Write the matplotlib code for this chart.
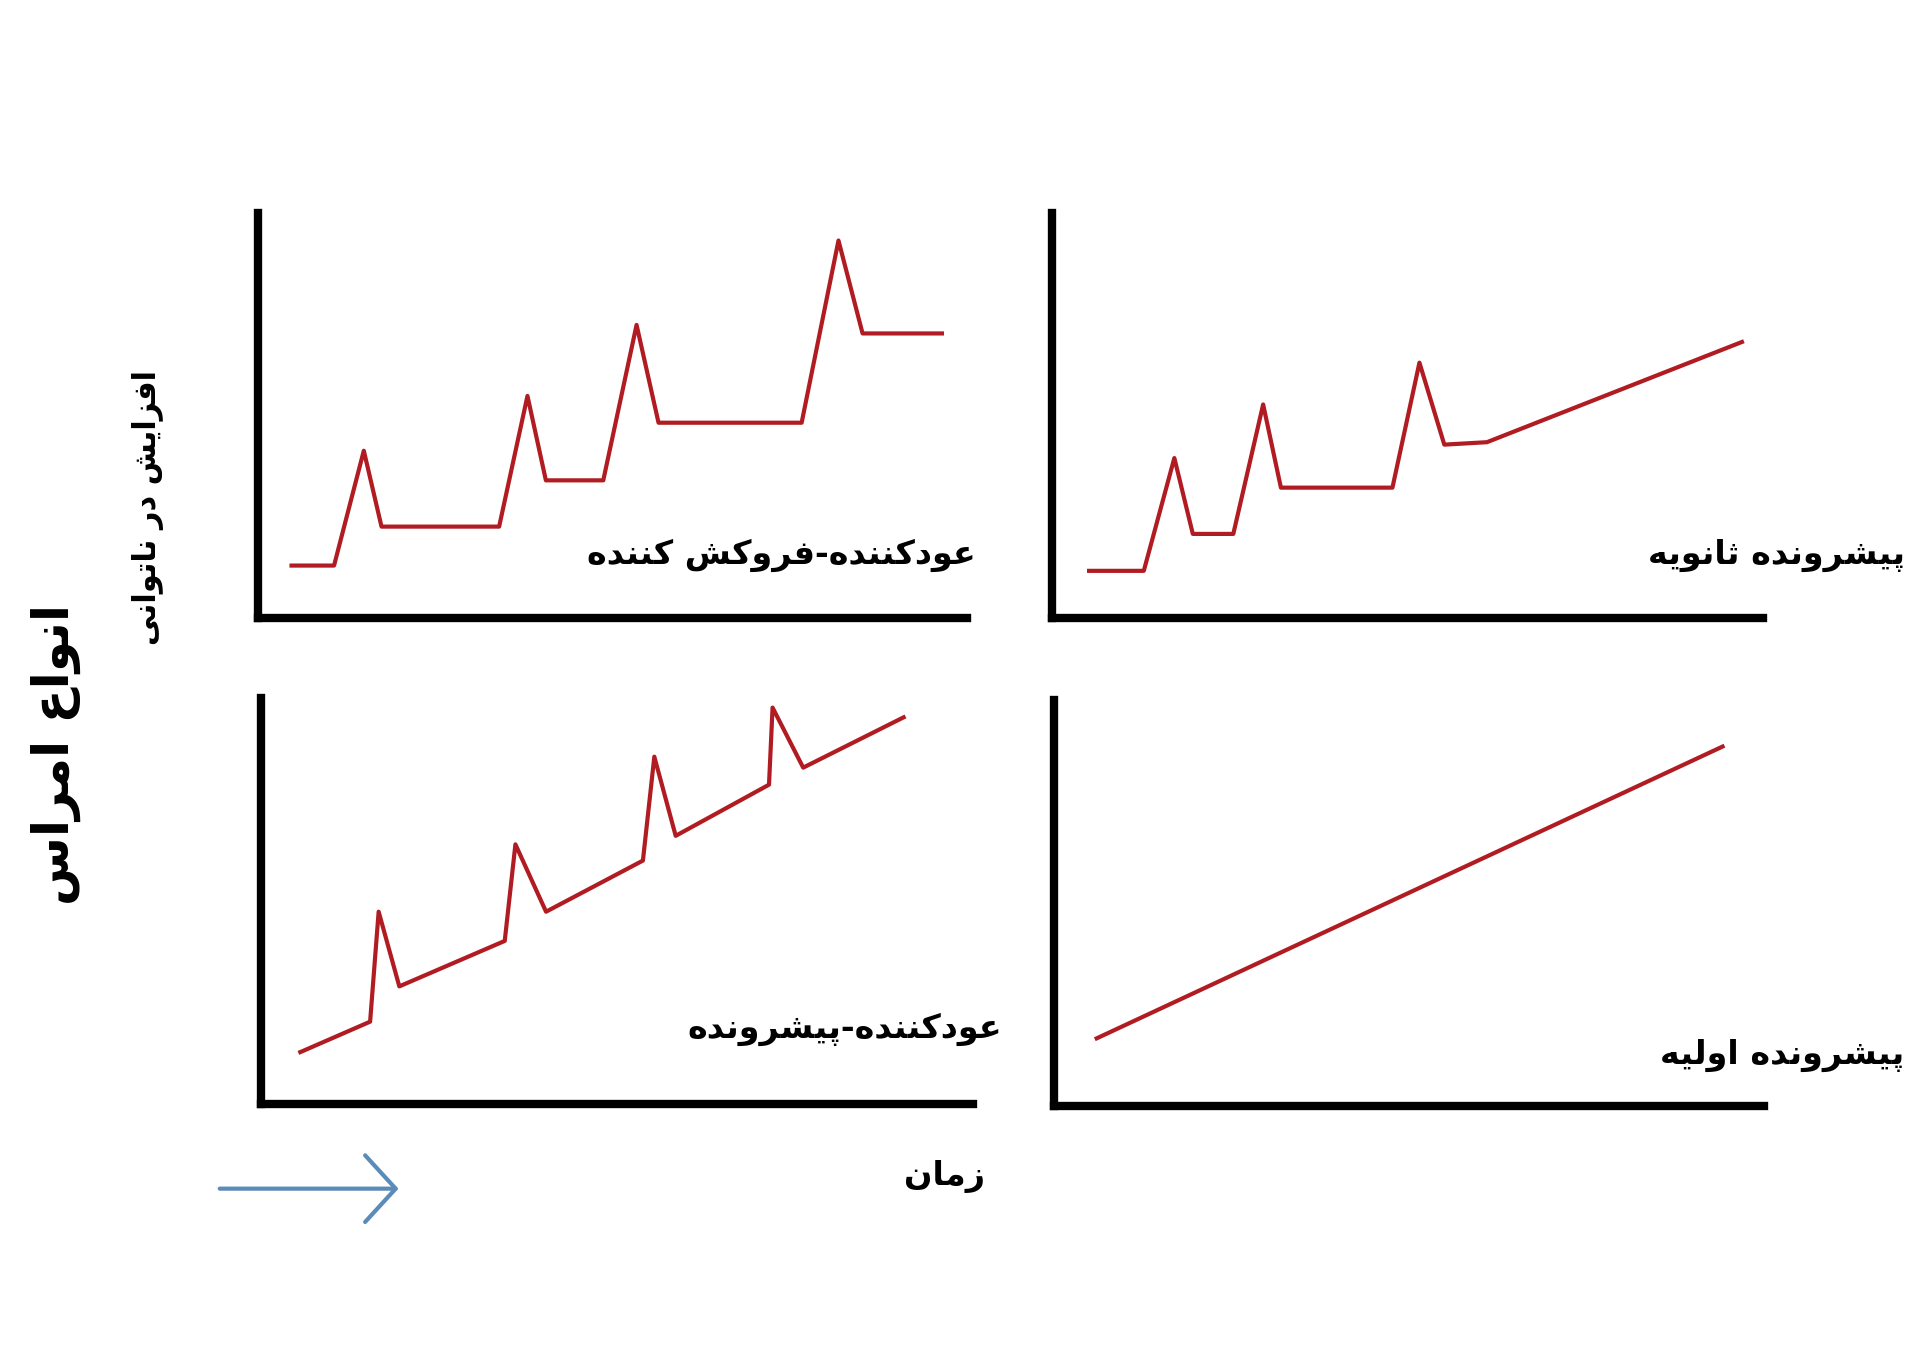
import matplotlib
matplotlib.use("Agg")
import matplotlib.pyplot as plt

plt.rcParams['font.family'] = ['DejaVu Sans']

# minimal persian shaping: isolated, final, initial, medial presentation forms
FORMS = {
    'ا': ('\uFE8D', '\uFE8E', None, None),
    'د': ('\uFEA9', '\uFEAA', None, None),
    'ر': ('\uFEAD', '\uFEAE', None, None),
    'ز': ('\uFEAF', '\uFEB0', None, None),
    'و': ('\uFEED', '\uFEEE', None, None),
    'ن': ('\uFEE5', '\uFEE6', '\uFEE7', '\uFEE8'),
    'ع': ('\uFEC9', '\uFECA', '\uFECB', '\uFECC'),
    'م': ('\uFEE1', '\uFEE2', '\uFEE3', '\uFEE4'),
    'س': ('\uFEB1', '\uFEB2', '\uFEB3', '\uFEB4'),
    'ف': ('\uFED1', '\uFED2', '\uFED3', '\uFED4'),
    'ش': ('\uFEB5', '\uFEB6', '\uFEB7', '\uFEB8'),
    'ت': ('\uFE95', '\uFE96', '\uFE97', '\uFE98'),
    'ث': ('\uFE99', '\uFE9A', '\uFE9B', '\uFE9C'),
    'ه': ('\uFEE9', '\uFEEA', '\uFEEB', '\uFEEC'),
    'ل': ('\uFEDD', '\uFEDE', '\uFEDF', '\uFEE0'),
    'ی': ('\uFBFC', '\uFBFD', '\uFBFE', '\uFBFF'),
    'ک': ('\uFB8E', '\uFB8F', '\uFB90', '\uFB91'),
    'پ': ('\uFB56', '\uFB57', '\uFB58', '\uFB59'),
}


def shape(text):
    out = []
    n = len(text)
    for i, ch in enumerate(text):
        if ch not in FORMS:
            out.append(ch)
            continue
        prev = text[i - 1] if i > 0 else None
        nxt = text[i + 1] if i < n - 1 else None
        joins_prev = prev in FORMS and FORMS[prev][2] is not None
        joins_next = nxt in FORMS and FORMS[ch][2] is not None
        iso, fin, ini, med = FORMS[ch]
        if joins_prev and joins_next:
            out.append(med)
        elif joins_prev:
            out.append(fin)
        elif joins_next:
            out.append(ini)
        else:
            out.append(iso)
    return ''.join(out)[::-1]


red = '#b01c22'

# panel data (time, disability) in 0-100 units
rr_x = [4.7, 10.7, 14.9, 17.4, 34, 38, 40.6, 48.7, 53.4, 56.5, 76.7, 81.9, 85.3, 96.5]
rr_y = [13, 13, 41.3, 22.6, 22.6, 54.8, 34, 34, 72.3, 48.2, 48.2, 93.1, 70.2, 70.2]

sp_x = [5.2, 12.9, 17.2, 19.8, 25.5, 29.7, 32.2, 47.9, 51.7, 55.2, 61.2, 97.1]
sp_y = [11.7, 11.7, 39.5, 20.8, 20.8, 52.7, 32.2, 32.2, 63.0, 42.8, 43.4, 68.1]

pr_x = [5.5, 15.3, 16.5, 19.4, 34.2, 35.7, 40.0, 53.6, 55.2, 58.2, 71.3, 71.8, 76.1, 90.2]
pr_y = [12.7, 20.2, 47.3, 28.9, 40.1, 63.9, 47.3, 59.9, 85.5, 66.0, 78.6, 97.6, 82.8, 95.2]

pp_x = [6.0, 94.1]
pp_y = [16.6, 88.5]

labels = ['عودکننده-فروکش کننده', 'پیشرونده ثانویه', 'عودکننده-پیشرونده', 'پیشرونده اولیه']

fig = plt.figure(figsize=(19.2, 13.71), dpi=100)

panels = [
    ([0.1345, 0.549, 0.369, 0.296], rr_x, rr_y, labels[0], (0.508, 0.595)),
    ([0.548, 0.549, 0.370, 0.296], sp_x, sp_y, labels[1], (0.992, 0.595)),
    ([0.136, 0.195, 0.371, 0.296], pr_x, pr_y, labels[2], (0.522, 0.249)),
    ([0.549, 0.1935, 0.370, 0.296], pp_x, pp_y, labels[3], (0.992, 0.230)),
]

for rect, xs, ys, lab, pos in panels:
    ax = fig.add_axes(rect)
    ax.plot(xs, ys, color=red, lw=3)
    ax.set_xlim(0, 100)
    ax.set_ylim(0, 100)
    for s in ['top', 'right']:
        ax.spines[s].set_visible(False)
    for s in ['left', 'bottom']:
        ax.spines[s].set_linewidth(6)
        ax.spines[s].set_color('black')
    ax.set_xticks([])
    ax.set_yticks([])
    fig.text(pos[0], pos[1], shape(lab), ha='right', va='center', fontsize=24, fontweight='bold')

fig.text(0.492, 0.142, shape('زمان'), ha='center', va='center', fontsize=24, fontweight='bold')
fig.text(0.077, 0.63, shape('افزایش در ناتوانی'), rotation=90, ha='center', va='center',
         fontsize=22, fontweight='bold')
fig.text(0.029, 0.45, shape('انواع امراس'), rotation=90, ha='center', va='center',
         fontsize=36, fontweight='bold')

fig.patches.append(matplotlib.patches.FancyArrowPatch(
    (0.113, 0.133), (0.209, 0.133), transform=fig.transFigure,
    arrowstyle='->,head_length=22,head_width=24', color='#5b8bb8', lw=3,
    mutation_scale=1))

fig.savefig('out.png', dpi=100, facecolor='white')
